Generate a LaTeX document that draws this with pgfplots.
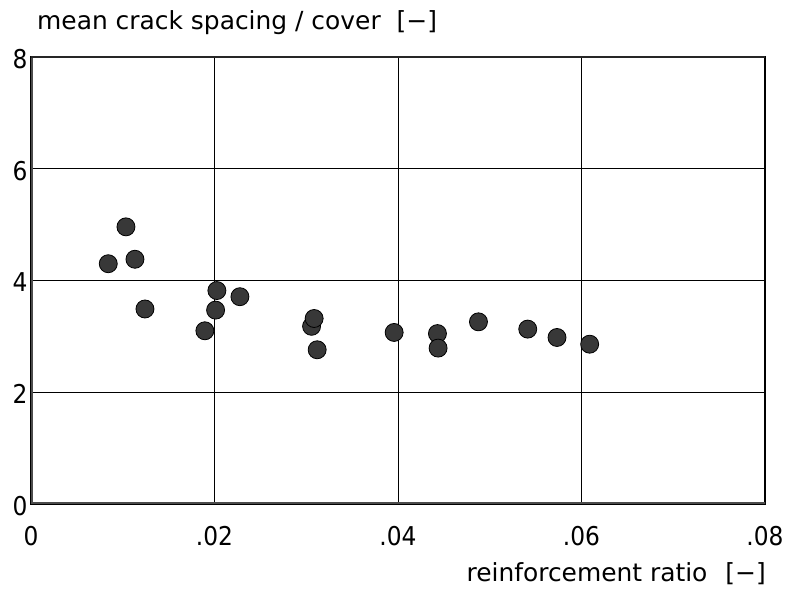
\documentclass[border=0pt]{standalone}
\usepackage{fontspec}
\setmainfont{DejaVu Sans}
\newfontfamily\tickfont{DejaVu Sans Condensed}
\usepackage{pgfplots}
\pgfplotsset{compat=1.18}

% mean crack spacing divided by cover, against reinforcement ratio
\begin{document}
\begin{tikzpicture}[x=1bp,y=1bp]
\path[use as bounding box] (0,0) rectangle (789,592);
\begin{axis}[
  at={(31bp,88bp)}, anchor=south west,
  scale only axis, width=734bp, height=447bp,
  xmin=0, xmax=0.08, ymin=0, ymax=8,
  xtick={0,0.02,0.04,0.06,0.08}, xticklabels={0,.02,.04,.06,.08},
  ytick={0,2,4,6,8}, yticklabels={0,2,4,6,8},
  scaled x ticks=false,
  grid=major, major grid style={black, line width=0.9bp},
  major tick length=0pt,
  axis line style={black, line width=1.3bp},
  ticklabel style={font=\tickfont\fontsize{26}{26}\selectfont},
  xticklabel style={yshift=-19bp},
  yticklabel style={xshift=0bp, yshift=-2bp},
]
% heavier left, bottom and top frame edges
\draw[black!70, line width=3.5bp, line cap=rect]
  (rel axis cs:0,1) -- (rel axis cs:0,0) -- (rel axis cs:1,0);
\draw[black!85, line width=2.2bp] (rel axis cs:0,1) -- (rel axis cs:1,1);
\addplot[only marks, mark=*, mark size=9bp,
  mark options={fill=black!78, draw=black, line width=0.8bp}]
  coordinates {
  (0.00842,4.30) (0.01035,4.96) (0.01133,4.38) (0.01242,3.49)
  (0.01895,3.10) (0.02012,3.47) (0.02026,3.82) (0.02277,3.71)
  (0.03058,3.18) (0.03086,3.32) (0.03119,2.76) (0.03958,3.07)
  (0.04430,3.05) (0.04437,2.79) (0.04877,3.26) (0.05414,3.13)
  (0.05733,2.98) (0.06089,2.86)
  };
\end{axis}
\node[anchor=base west, font=\fontsize{25}{25}\selectfont, inner sep=0pt]
  at (37,562) {mean crack spacing / cover\hspace{16bp}[−]};
\node[anchor=base east, font=\fontsize{25}{25}\selectfont, inner sep=0pt]
  at (766,10) {reinforcement ratio\hspace{18bp}[−]};
\end{tikzpicture}
\end{document}
